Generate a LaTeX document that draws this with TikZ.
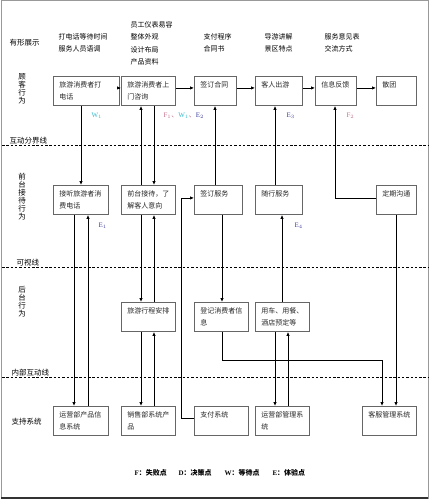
\documentclass[tikz,border=0pt]{standalone}
\usepackage{fontspec}
\setmainfont{Liberation Serif}
\newfontfamily\cjk{Noto Sans CJK SC}
\usetikzlibrary{arrows.meta,calc}
\definecolor{failpink}{HTML}{C0708A}
\definecolor{waitcyan}{HTML}{33BBCC}
\definecolor{expblue}{HTML}{4040A0}

\begin{document}
\begin{tikzpicture}[x=1pt,y=-1pt,>={Latex[length=4pt,width=3.5pt]},
  font=\cjk\fontsize{7}{12.5}\selectfont,
  box/.style={draw=black!60,line width=0.9pt,anchor=north west,align=left,
    minimum height=29pt,inner xsep=6pt,inner ysep=0pt,text=black!85},
  link/.style={line width=0.8pt},
  divider/.style={line width=0.9pt,dash pattern=on 2.5pt off 1.8pt},
  lane/.style={anchor=west,font=\cjk\fontsize{7.5}{8}\selectfont},
  vlane/.style={align=center,font=\cjk\fontsize{7.5}{8}\selectfont},
  prop/.style={anchor=west,align=left},
  tag/.style={anchor=west,font=\rmfamily\fontsize{7}{8}\selectfont},
  key/.style={anchor=west,font=\cjk\bfseries\fontsize{7}{8}\selectfont}]
  \useasboundingbox (0,0) rectangle (430,500);
  \draw[black!40,line width=1pt] (1,1) rectangle (428,498);
  \draw[black!80,line width=1.2pt] (1,498) -- (428,498);

  % lanes and lines of visibility
  \node[lane] (tangible) at (6,43) {有形展示};
  \node[vlane] (guest) at (22,89) {顾\\客\\行\\为};
  \node[vlane] (front) at (22,197) {前\\台\\接\\待\\行\\为};
  \node[vlane] (back) at (22,302) {后\\台\\行\\为};
  \node[lane] (support) at (8,422) {支持系统};
  \draw[divider] (2,145) -- (428,145);
  \draw[divider] (2,267) -- (428,267);
  \draw[divider] (2,377) -- (428,377);
  \node[lane] (lineA) at (6,141) {互动分界线};
  \node[lane] (lineB) at (13,263) {可视线};
  \node[lane] (lineC) at (8,373) {内部互动线};

  % physical evidence
  \node[prop] (ev1) at (55,43) {打电话等待时间\\服务人员语调};
  \node[prop] (ev2) at (127,43.5) {员工仪表易容\\整体外观\\设计布局\\产品资料};
  \node[prop] (ev3) at (200,43) {支付程序\\合同书};
  \node[prop] (ev4) at (261,43) {导游讲解\\景区特点};
  \node[prop] (ev5) at (321,43) {服务意见表\\交流方式};

  % customer actions
  \node[box,text width=54pt] (B1) at (53,76) {旅游消费者打\\电话};
  \node[box,text width=42pt] (B2) at (121,76) {旅游消费者上\\门咨询};
  \node[box,text width=30pt] (B3) at (194,76) {签订合同\\\mbox{}};
  \node[box,text width=35pt] (B4) at (255,76) {客人出游\\\mbox{}};
  \node[box,text width=29pt] (B5) at (315,76) {信息反馈\\\mbox{}};
  \node[box,text width=28pt] (B6) at (376,76) {散团\\\mbox{}};

  % front stage
  \node[box,text width=43pt] (F1) at (53,185) {接听旅游者消\\费电话};
  \node[box,text width=42pt] (F2) at (121,185) {前台接待，了\\解客人意向};
  \node[box,text width=36pt] (F3) at (194,185) {签订服务\\\mbox{}};
  \node[box,text width=35pt] (F4) at (255,185) {随行服务\\\mbox{}};
  \node[box,text width=28pt] (F5) at (376,185) {定期沟通\\\mbox{}};

  % back stage
  \node[box,text width=42pt] (K1) at (121,302) {旅游行程安排\\\mbox{}};
  \node[box,text width=42pt] (K2) at (194,302) {登记消费者信\\息};
  \node[box,text width=42pt] (K3) at (255,302) {用车、用餐、\\酒店预定等};

  % support systems
  \node[box,text width=43pt] (S1) at (53,406) {运营部产品信\\息系统};
  \node[box,text width=42pt] (S2) at (121,406) {销售部系统产\\品};
  \node[box,text width=42pt] (S3) at (194,406) {支付系统\\\mbox{}};
  \node[box,text width=42pt] (S4) at (255,406) {运营部管理系\\统};
  \node[box,text width=42pt] (S5) at (362,406) {客服管理系统\\\mbox{}};

  % columns of the vertical links
  \coordinate (c1a) at (74,0);
  \coordinate (c1b) at (81,0);
  \coordinate (c1c) at (88,0);
  \coordinate (c2a) at (141,0);
  \coordinate (c2b) at (154,0);
  \coordinate (c3a) at (215,0);
  \coordinate (c3b) at (222,0);
  \coordinate (c4a) at (275,0);
  \coordinate (c4b) at (282,0);
  \coordinate (c4c) at (288,0);
  \coordinate (c5) at (335,0);
  \coordinate (c6a) at (382,0);
  \coordinate (c6b) at (396,0);

  \draw[link,->] ([yshift=3pt]B1.east) -- ([yshift=3pt]B2.west);
  \draw[link,->] ([yshift=3pt]B2.east) -- ([yshift=3pt]B3.west);
  \draw[link,->] ([yshift=3pt]B3.east) -- ([yshift=3pt]B4.west);
  \draw[link,->] ([yshift=3pt]B4.east) -- ([yshift=3pt]B5.west);
  \draw[link,->] ([yshift=3pt]B5.east) -- ([yshift=3pt]B6.west);

  \draw[link,->] (B1.south -| c1b) -- (F1.north -| c1b);
  \draw[link,->] (F1.south -| c1a) -- (S1.north -| c1a);
  \draw[link,->] (S1.north -| c1c) -- (F1.south -| c1c);
  \draw[link,->] (F2.north -| c2a) -- (B2.south -| c2a);
  \draw[link,->] (B2.south -| c2b) -- (F2.north -| c2b);
  \draw[link,->] (F2.south -| c2a) -- (K1.north -| c2a);
  \draw[link,->] (K1.north -| c2b) -- (F2.south -| c2b);
  \draw[link,->] (K1.south -| c2a) -- (S2.north -| c2a);
  \draw[link,->] (S2.north -| c2b) -- (K1.south -| c2b);
  \draw[link,->] (F3.north -| c3a) -- (B3.south -| c3a);
  \draw[link,->] ([yshift=3pt]S3.west) -- ++(-13,0) |- ([yshift=2pt]F3.west);
  \draw[link,->] (F3.south -| c3b) -- (K2.north -| c3b);
  \draw[link,->] (K2.south -| c3b) -- ++(0,28) -| (S5.north -| c6a);
  \draw[link,->] (F4.north -| c4a) -- (B4.south -| c4a);
  \draw[link,->] (K3.north -| c4b) -- (F4.south -| c4b);
  \draw[link,->] (K3.south -| c4a) -- (S4.north -| c4a);
  \draw[link,->] (S4.north -| c4c) -- (K3.south -| c4c);
  \draw[link,->] ([yshift=2pt]F5.west) -| (B5.south -| c5);
  \draw[link,->] (F5.south -| c6b) -- (S5.north -| c6b);

  % service points
  \node[tag] (w1) at (88,116) {\color{waitcyan}W$_1$};
  \node[tag] (fwe) at (160,116) {\color{failpink}F$_1${\cjk 、}\color{waitcyan}W$_1${\cjk\color{failpink}、}\color{expblue}E$_2$};
  \node[tag] (e3) at (283,116) {\color{expblue}E$_3$};
  \node[tag] (f2) at (343,116) {\color{failpink}F$_2$};
  \node[tag] (e1) at (95,226) {\color{expblue}E$_1$};
  \node[tag] (e4) at (291,226) {\color{expblue}E$_4$};

  % legend
  \node[key] (kf) at (131,473) {{\rmfamily F}：失败点};
  \node[key] (kd) at (175,473) {{\rmfamily D}：决策点};
  \node[key] (kw) at (221,473) {{\rmfamily W}：等待点};
  \node[key] (ke) at (269,473) {{\rmfamily E}：体验点};
\end{tikzpicture}
\end{document}
